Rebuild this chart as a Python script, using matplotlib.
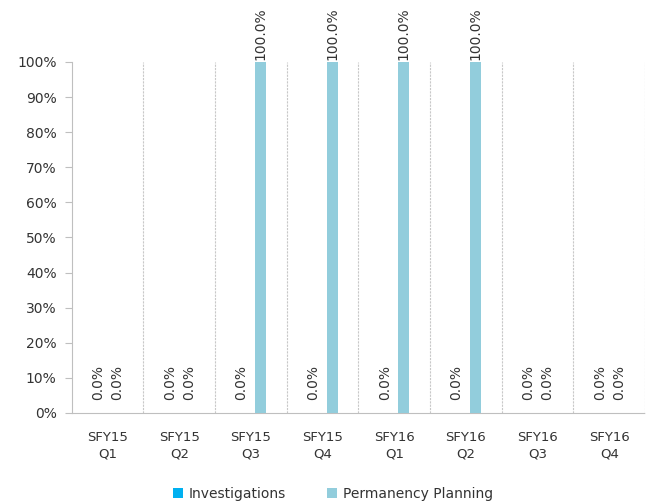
import numpy as np
import matplotlib.pyplot as plt
from matplotlib.ticker import PercentFormatter

categories = ["SFY15\nQ1", "SFY15\nQ2", "SFY15\nQ3", "SFY15\nQ4",
              "SFY16\nQ1", "SFY16\nQ2", "SFY16\nQ3", "SFY16\nQ4"]
investigations = [0.0, 0.0, 0.0, 0.0, 0.0, 0.0, 0.0, 0.0]
permanency = [0.0, 0.0, 100.0, 100.0, 100.0, 100.0, 0.0, 0.0]

c_inv = "#00B0F0"
c_pp = "#92CDDC"

fig = plt.figure(figsize=(6.53, 5.04), dpi=100)
ax = fig.add_axes([0.110, 0.1806, 0.878, 0.6964])

x = np.arange(len(categories))
w = 0.155
off = 0.132
b1 = ax.bar(x - off, investigations, w, color=c_inv, label="Investigations", zorder=3)
b2 = ax.bar(x + off, permanency, w, color=c_pp, label="Permanency Planning", zorder=3)

for bars, vals in ((b1, investigations), (b2, permanency)):
    for r, v in zip(bars, vals):
        dy = 9 if v == 0 else 1.5
        ax.annotate("%.1f%%" % v, (r.get_x() + r.get_width() / 2, v),
                    xytext=(0, dy), textcoords="offset points",
                    rotation=90, ha="center", va="bottom", fontsize=10,
                    color="#333333", annotation_clip=False)

ax.set_xlim(-0.5, len(categories) - 0.5)
ax.set_ylim(0, 100)
ax.set_yticks(np.arange(0, 101, 10))
ax.yaxis.set_major_formatter(PercentFormatter(decimals=0))
ax.set_xticks(x)
ax.set_xticklabels(categories, fontsize=9.5, color="#333333", linespacing=1.35)
ax.tick_params(axis="y", labelsize=10, colors="#333333", length=5, color="#bfbfbf", pad=6)
ax.tick_params(axis="x", length=0, pad=13)

# dashed separators between categories
for b in np.arange(0.5, len(categories), 1.0):
    ax.axvline(b, color="#c8c8c8", lw=0.8, ls=(0, (2, 1)), zorder=1)

for s in ("top", "right"):
    ax.spines[s].set_visible(False)
ax.spines["left"].set_color("#bfbfbf")
ax.spines["left"].set_linestyle((0, (2, 1)))
ax.spines["bottom"].set_color("#bfbfbf")
ax.spines["bottom"].set_linestyle((0, (2, 1)))

fig.legend(loc="lower center", bbox_to_anchor=(0.51, -0.018), ncol=2, frameon=False,
           fontsize=10, handlelength=0.7, handleheight=0.7, columnspacing=3,
           handletextpad=0.4, labelcolor="#333333")

fig.savefig("out.png", dpi=100)
